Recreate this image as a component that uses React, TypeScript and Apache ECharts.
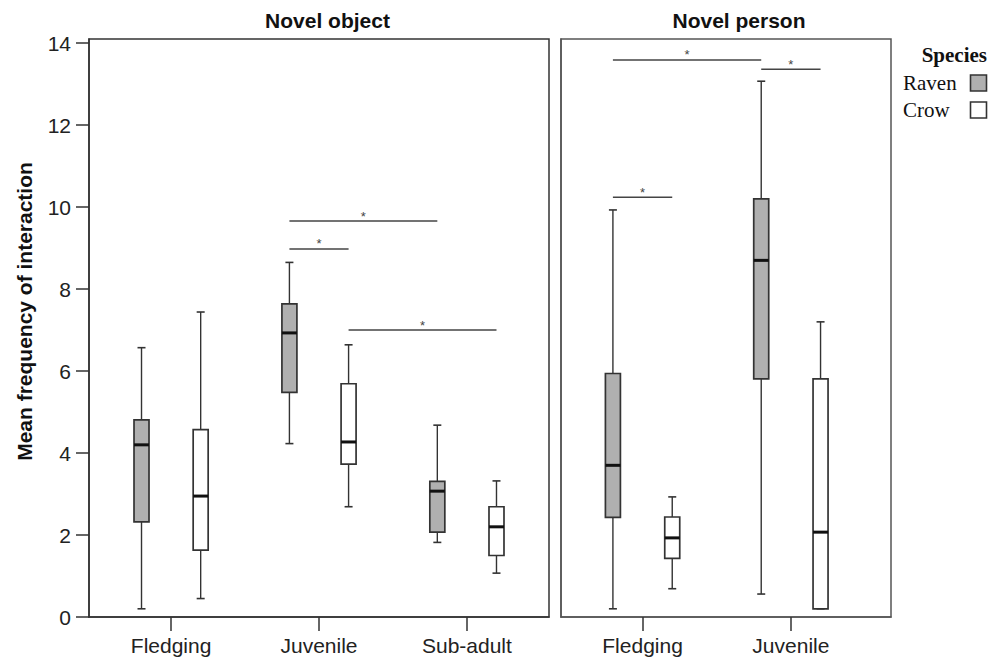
import React, { useEffect, useRef } from 'react';
import * as echarts from 'echarts';

const objectCategories = ['Fledging', 'Juvenile', 'Sub-adult'];
const personCategories = ['Fledging', 'Juvenile'];
const speciesNames = ['Raven', 'Crow'];
const yTicks = [0, 2, 4, 6, 8, 10, 12, 14];

// [min, Q1, median, Q3, max] per category
const objectRaven = [
  [0.2, 2.32, 4.2, 4.81, 6.57],
  [4.23, 5.48, 6.93, 7.64, 8.65],
  [1.82, 2.07, 3.07, 3.31, 4.68],
];
const objectCrow = [
  [0.45, 1.63, 2.95, 4.57, 7.44],
  [2.69, 3.73, 4.27, 5.69, 6.64],
  [1.07, 1.5, 2.2, 2.69, 3.32],
];
const personRaven = [
  [0.2, 2.43, 3.7, 5.94, 9.93],
  [0.56, 5.81, 8.7, 10.2, 13.07],
];
const personCrow = [
  [0.69, 1.43, 1.93, 2.44, 2.93],
  [0.2, 0.2, 2.07, 5.81, 7.2],
];

// significance brackets: [category from, species from, category to, species to, height]
const objectSig = [
  [1, 0, 2, 0, 9.66],
  [1, 0, 1, 1, 8.98],
  [1, 1, 2, 1, 7.0],
];
const personSig = [
  [0, 0, 1, 0, 13.59],
  [1, 0, 1, 1, 13.36],
  [0, 0, 0, 1, 10.24],
];

const OFFSET = 0.2;
const FILLS = ['#b0b0b0', '#ffffff'];
const SANS = 'Liberation Sans, Arial, sans-serif';
const SERIF = 'Liberation Serif, Times New Roman, serif';

const pos = (cat: number, sp: number) => cat + (sp === 0 ? -OFFSET : OFFSET);

const buildBoxes = (raven: number[][], crow: number[][]) => {
  const out: number[][] = [];
  raven.forEach((v, i) => out.push([pos(i, 0), ...v, 0]));
  crow.forEach((v, i) => out.push([pos(i, 1), ...v, 1]));
  return out;
};
const buildSig = (sig: number[][]) =>
  sig.map(([c1, s1, c2, s2, y]) => [pos(c1, s1), pos(c2, s2), y]);

const boxRender = (params: any, api: any) => {
  const x = api.value(0);
  const v = [1, 2, 3, 4, 5].map((k) => api.value(k));
  const sp = api.value(6);
  const py = (val: number) => api.coord([x, val])[1];
  const cx = api.coord([x, 0])[0];
  const yMin = py(v[0]);
  const yQ1 = py(v[1]);
  const yMed = py(v[2]);
  const yQ3 = py(v[3]);
  const yMax = py(v[4]);
  const hb = 7.5;
  const hc = 4;
  const stroke = '#333';
  return {
    type: 'group',
    children: [
      { type: 'line', shape: { x1: cx, y1: yMax, x2: cx, y2: yQ3 }, style: { stroke, lineWidth: 1.4 } },
      { type: 'line', shape: { x1: cx, y1: yQ1, x2: cx, y2: yMin }, style: { stroke, lineWidth: 1.4 } },
      { type: 'line', shape: { x1: cx - hc, y1: yMax, x2: cx + hc, y2: yMax }, style: { stroke, lineWidth: 1.6 } },
      { type: 'line', shape: { x1: cx - hc, y1: yMin, x2: cx + hc, y2: yMin }, style: { stroke, lineWidth: 1.6 } },
      {
        type: 'rect',
        shape: { x: cx - hb, y: yQ3, width: hb * 2, height: yQ1 - yQ3 },
        style: { fill: FILLS[sp], stroke, lineWidth: 1.7 },
      },
      { type: 'line', shape: { x1: cx - hb, y1: yMed, x2: cx + hb, y2: yMed }, style: { stroke: '#111', lineWidth: 3 } },
    ],
  };
};

const sigRender = (params: any, api: any) => {
  const a = api.coord([api.value(0), api.value(2)]);
  const b = api.coord([api.value(1), api.value(2)]);
  return {
    type: 'group',
    children: [
      { type: 'line', shape: { x1: a[0], y1: a[1], x2: b[0], y2: b[1] }, style: { stroke: '#444', lineWidth: 1.5 } },
      {
        type: 'text',
        x: (a[0] + b[0]) / 2,
        y: a[1] - 5,
        style: { text: '*', fill: '#444', fontSize: 13, fontFamily: SANS, align: 'center', verticalAlign: 'middle' },
      },
    ],
  };
};

const xAxisFor = (gridIndex: number, min: number, max: number, cats: string[], color: string) => ({
  gridIndex,
  type: 'value',
  min,
  max,
  axisLine: { show: true, onZero: false, lineStyle: { color, width: 1.5 } },
  axisTick: { show: true, customValues: cats.map((_, i) => i), length: 14, lineStyle: { color: '#333', width: 1.5 } },
  axisLabel: {
    customValues: cats.map((_, i) => i),
    formatter: (val: number) => cats[Math.round(val)] ?? '',
    margin: 18,
    fontSize: 21,
    color: '#222',
    fontFamily: SANS,
  },
  splitLine: { show: false },
});

export default function App() {
  const ref = useRef<HTMLDivElement>(null);
  useEffect(() => {
    if (!ref.current) return;
    const chart = echarts.init(ref.current, undefined, { renderer: 'svg' });
    const option: any = {
      animation: false,
      backgroundColor: '#ffffff',
      grid: [
        { left: 89, top: 39, width: 460, height: 578, show: true, borderColor: '#333', borderWidth: 1.5, backgroundColor: 'transparent' },
        { left: 561, top: 39, width: 330, height: 578, show: true, borderColor: '#555', borderWidth: 1.5, backgroundColor: 'transparent' },
      ],
      xAxis: [
        xAxisFor(0, -0.555, 2.555, objectCategories, '#333'),
        xAxisFor(1, -0.55, 1.675, personCategories, '#555'),
      ],
      yAxis: [
        {
          gridIndex: 0,
          type: 'value',
          min: 0,
          max: 14.1,
          axisLine: { show: true, onZero: false, lineStyle: { color: '#333', width: 1.5 } },
          axisTick: { show: true, customValues: yTicks, length: 13, lineStyle: { color: '#333', width: 1.5 } },
          axisLabel: { customValues: yTicks, margin: 18, fontSize: 21, color: '#222', fontFamily: SANS },
          splitLine: { show: false },
        },
        {
          gridIndex: 1,
          type: 'value',
          min: 0,
          max: 14.1,
          axisLine: { show: true, onZero: false, lineStyle: { color: '#555', width: 1.5 } },
          axisTick: { show: false },
          axisLabel: { show: false },
          splitLine: { show: false },
        },
      ],
      series: [
        {
          type: 'custom',
          xAxisIndex: 0,
          yAxisIndex: 0,
          renderItem: boxRender,
          encode: { x: 0, y: [1, 2, 3, 4, 5] },
          data: buildBoxes(objectRaven, objectCrow),
          z: 3,
        },
        {
          type: 'custom',
          xAxisIndex: 1,
          yAxisIndex: 1,
          renderItem: boxRender,
          encode: { x: 0, y: [1, 2, 3, 4, 5] },
          data: buildBoxes(personRaven, personCrow),
          z: 3,
        },
        {
          type: 'custom',
          xAxisIndex: 0,
          yAxisIndex: 0,
          renderItem: sigRender,
          encode: { x: [0, 1], y: 2 },
          data: buildSig(objectSig),
          z: 3,
        },
        {
          type: 'custom',
          xAxisIndex: 1,
          yAxisIndex: 1,
          renderItem: sigRender,
          encode: { x: [0, 1], y: 2 },
          data: buildSig(personSig),
          z: 3,
        },
      ],
      graphic: [
        {
          type: 'text',
          x: 327.5,
          y: 20,
          style: { text: 'Novel object', fontSize: 21, fontWeight: 'bold', fontFamily: SANS, fill: '#111', align: 'center', verticalAlign: 'middle' },
        },
        {
          type: 'text',
          x: 739,
          y: 20,
          style: { text: 'Novel person', fontSize: 21, fontWeight: 'bold', fontFamily: SANS, fill: '#111', align: 'center', verticalAlign: 'middle' },
        },
        {
          type: 'text',
          x: 24,
          y: 311.5,
          rotation: Math.PI / 2,
          style: { text: 'Mean frequency of interaction', fontSize: 21, fontWeight: 'bold', fontFamily: SANS, fill: '#111', align: 'center', verticalAlign: 'middle' },
        },
        {
          type: 'text',
          x: 987,
          y: 55,
          style: { text: 'Species', fontSize: 21, fontWeight: 'bold', fontFamily: SERIF, fill: '#111', align: 'right', verticalAlign: 'middle' },
        },
        {
          type: 'text',
          x: 903,
          y: 83,
          style: { text: speciesNames[0], fontSize: 21, fontFamily: SERIF, fill: '#111', align: 'left', verticalAlign: 'middle' },
        },
        {
          type: 'text',
          x: 903,
          y: 110,
          style: { text: speciesNames[1], fontSize: 21, fontFamily: SERIF, fill: '#111', align: 'left', verticalAlign: 'middle' },
        },
        {
          type: 'rect',
          shape: { x: 970.5, y: 75, width: 16, height: 16 },
          style: { fill: FILLS[0], stroke: '#333', lineWidth: 1.6 },
        },
        {
          type: 'rect',
          shape: { x: 970.5, y: 102, width: 16, height: 16 },
          style: { fill: FILLS[1], stroke: '#333', lineWidth: 1.6 },
        },
      ],
    };
    chart.setOption(option);
    return () => chart.dispose();
  }, []);
  return <div ref={ref} style={{ position: 'fixed', left: 0, top: 0, width: 1000, height: 659 }} />;
}
